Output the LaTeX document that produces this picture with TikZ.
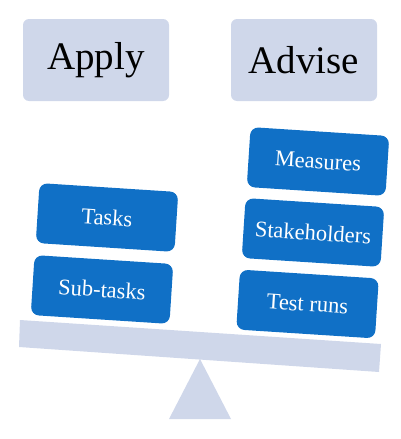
\documentclass[tikz,border=0pt]{standalone}
\usepackage{fontspec}
\setmainfont{Liberation Serif}
\usepackage{xcolor}
\definecolor{paleblue}{HTML}{CFD7EA}
\definecolor{boxblue}{HTML}{1070C6}

\tikzset{
  headbox/.style={fill=paleblue, rounded corners=6pt, minimum width=146pt, minimum height=82pt, inner sep=0pt, font=\fontsize{39}{44}\selectfont},
  itembox/.style={fill=boxblue, text=white, rounded corners=8pt, minimum width=139pt, minimum height=60pt, inner sep=0pt, rotate=-3.7, font=\fontsize{22.5}{26}\selectfont}
}

\begin{document}
\begin{tikzpicture}[x=1pt, y=-1pt]
\useasboundingbox (0,0) rectangle (400,439);
\node[headbox] (apply) at (96,60) {Apply};
\node[headbox] (advise) at (304,60) {Advise};
\fill[paleblue] (200,359) -- (231,419) -- (169,419) -- cycle;
\fill[paleblue] (20,320) -- (381,344) -- (379,372) -- (19,347) -- cycle;
\node[itembox] (tasks) at (107,217.5) {Tasks};
\node[itembox] (subtasks) at (102,289.5) {Sub-tasks};
\node[itembox] (measures) at (318,161.5) {Measures};
\node[itembox] (stakeholders) at (313,232.5) {Stakeholders};
\node[itembox] (testruns) at (307.5,304) {Test runs};
\end{tikzpicture}
\end{document}
